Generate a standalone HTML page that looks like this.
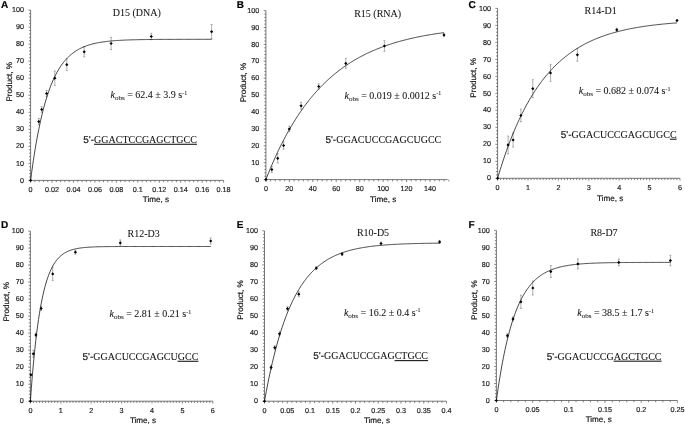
<!DOCTYPE html>
<html><head><meta charset="utf-8"><title>Kinetics panels</title>
<style>
html,body{margin:0;padding:0;background:#fff;}
body{width:685px;height:425px;overflow:hidden;}
svg{display:block;filter:blur(0.3px);} .sf{stroke-width:0.06px !important;text-rendering:auto !important;} text{stroke:currentColor;stroke-width:0.18px;paint-order:stroke;text-rendering:geometricPrecision;}
</style></head>
<body>
<svg width="685" height="425" viewBox="0 0 685 425">
<rect width="685" height="425" fill="#fff"/>
<path d="M30.6 10.1V180.4H223.6" stroke="#555" stroke-width="0.8" fill="none"/>
<path d="M28.4 180.4H30.6M29 176.99H30.6M29 173.59H30.6M29 170.18H30.6M29 166.78H30.6M28.4 163.37H30.6M29 159.96H30.6M29 156.56H30.6M29 153.15H30.6M29 149.75H30.6M28.4 146.34H30.6M29 142.93H30.6M29 139.53H30.6M29 136.12H30.6M29 132.72H30.6M28.4 129.31H30.6M29 125.9H30.6M29 122.5H30.6M29 119.09H30.6M29 115.69H30.6M28.4 112.28H30.6M29 108.87H30.6M29 105.47H30.6M29 102.06H30.6M29 98.66H30.6M28.4 95.25H30.6M29 91.84H30.6M29 88.44H30.6M29 85.03H30.6M29 81.63H30.6M28.4 78.22H30.6M29 74.81H30.6M29 71.41H30.6M29 68H30.6M29 64.6H30.6M28.4 61.19H30.6M29 57.78H30.6M29 54.38H30.6M29 50.97H30.6M29 47.57H30.6M28.4 44.16H30.6M29 40.75H30.6M29 37.35H30.6M29 33.94H30.6M29 30.54H30.6M28.4 27.13H30.6M29 23.72H30.6M29 20.32H30.6M29 16.91H30.6M29 13.51H30.6M28.4 10.1H30.6M30.6 180.4V182.8M34.89 180.4V182.2M39.18 180.4V182.2M43.47 180.4V182.2M47.76 180.4V182.2M52.04 180.4V182.8M56.33 180.4V182.2M60.62 180.4V182.2M64.91 180.4V182.2M69.2 180.4V182.2M73.49 180.4V182.8M77.78 180.4V182.2M82.07 180.4V182.2M86.36 180.4V182.2M90.64 180.4V182.2M94.93 180.4V182.8M99.22 180.4V182.2M103.51 180.4V182.2M107.8 180.4V182.2M112.09 180.4V182.2M116.38 180.4V182.8M120.67 180.4V182.2M124.96 180.4V182.2M129.24 180.4V182.2M133.53 180.4V182.2M137.82 180.4V182.8M142.11 180.4V182.2M146.4 180.4V182.2M150.69 180.4V182.2M154.98 180.4V182.2M159.27 180.4V182.8M163.56 180.4V182.2M167.84 180.4V182.2M172.13 180.4V182.2M176.42 180.4V182.2M180.71 180.4V182.8M185 180.4V182.2M189.29 180.4V182.2M193.58 180.4V182.2M197.87 180.4V182.2M202.16 180.4V182.8M206.44 180.4V182.2M210.73 180.4V182.2M215.02 180.4V182.2M219.31 180.4V182.2M223.6 180.4V182.8" stroke="#555" stroke-width="0.7" fill="none"/>
<g font-family='"Liberation Sans", sans-serif' font-size="7.2" fill="#222" color="#222"><text x="24" y="182.55" text-anchor="end">0</text><text x="24" y="165.52" text-anchor="end">10</text><text x="24" y="148.49" text-anchor="end">20</text><text x="24" y="131.46" text-anchor="end">30</text><text x="24" y="114.43" text-anchor="end">40</text><text x="24" y="97.4" text-anchor="end">50</text><text x="24" y="80.37" text-anchor="end">60</text><text x="24" y="63.34" text-anchor="end">70</text><text x="24" y="46.31" text-anchor="end">80</text><text x="24" y="29.28" text-anchor="end">90</text><text x="24" y="12.25" text-anchor="end">100</text><text x="30.6" y="191.7" text-anchor="middle">0</text><text x="52.04" y="191.7" text-anchor="middle">0.02</text><text x="73.49" y="191.7" text-anchor="middle">0.04</text><text x="94.93" y="191.7" text-anchor="middle">0.06</text><text x="116.38" y="191.7" text-anchor="middle">0.08</text><text x="137.82" y="191.7" text-anchor="middle">0.1</text><text x="159.27" y="191.7" text-anchor="middle">0.12</text><text x="180.71" y="191.7" text-anchor="middle">0.14</text><text x="202.16" y="191.7" text-anchor="middle">0.16</text><text x="223.6" y="191.7" text-anchor="middle">0.18</text></g>
<text font-family='"Liberation Sans", sans-serif' font-size="8.1" fill="#111" color="#111" text-anchor="middle" transform="translate(11.6 81.8) rotate(-90)">Product, %</text>
<text font-family='"Liberation Sans", sans-serif' font-size="8.1" fill="#111" color="#111" text-anchor="middle" x="155.9" y="201.6">Time, s</text>
<text font-family='"Liberation Sans", sans-serif' font-weight="bold" font-size="10" fill="#000" color="#000" x="1.1" y="7.9">A</text>
<path d="M38.8 118.5V124.7M37.8 118.5H39.8M37.8 124.7H39.8M41.7 106.7V112.3M40.7 106.7H42.7M40.7 112.3H42.7M46.6 90.5V96.5M45.6 90.5H47.6M45.6 96.5H47.6M54.8 71V85.4M53.8 71H55.8M53.8 85.4H55.8M66.8 58.8V70.6M65.8 58.8H67.8M65.8 70.6H67.8M84.2 46.8V56.8M83.2 46.8H85.2M83.2 56.8H85.2M111.1 37.4V49.6M110.1 37.4H112.1M110.1 49.6H112.1M151.3 33.3V39.7M150.3 33.3H152.3M150.3 39.7H152.3M211.6 24.5V38.9M210.6 24.5H212.6M210.6 38.9H212.6" stroke="#7a7a7a" stroke-width="0.6" fill="none"/>
<path d="M30.6 180.4L31.51 173.55L32.41 167.02L33.31 160.82L34.22 154.92L35.12 149.3L36.03 143.96L36.94 138.87L37.84 134.04L38.75 129.44L39.65 125.06L40.55 120.89L41.46 116.93L42.37 113.16L43.27 109.57L44.17 106.16L45.08 102.91L45.98 99.82L46.89 96.88L47.8 94.08L48.7 91.42L49.61 88.89L50.51 86.48L51.41 84.19L52.32 82.01L53.23 79.93L54.13 77.96L55.03 76.08L55.94 74.3L56.84 72.6L57.75 70.98L58.66 69.44L59.56 67.98L60.47 66.58L61.37 65.26L62.27 64L63.18 62.8L64.09 61.66L64.99 60.57L65.89 59.54L66.8 58.56L67.71 57.62L68.61 56.73L69.52 55.88L70.42 55.08L71.32 54.31L72.23 53.58L73.13 52.89L74.04 52.23L74.94 51.6L75.85 51.01L76.75 50.44L77.66 49.9L78.56 49.38L79.47 48.89L80.38 48.43L81.28 47.98L82.18 47.56L83.09 47.16L84 46.78L84.9 46.42L85.8 46.07L86.71 45.74L87.62 45.43L88.52 45.13L89.42 44.85L90.33 44.58L91.23 44.32L92.14 44.08L93.04 43.85L93.95 43.63L94.85 43.42L95.76 43.22L96.66 43.03L97.57 42.85L98.47 42.68L99.38 42.51L100.28 42.36L101.19 42.21L102.09 42.07L103 41.93L103.91 41.81L104.81 41.68L105.72 41.57L106.62 41.46L107.52 41.35L108.43 41.25L109.34 41.16L110.24 41.07L111.14 40.98L112.05 40.9L112.96 40.83L113.86 40.75L114.76 40.68L115.67 40.61L116.58 40.55L117.48 40.49L118.38 40.43L119.29 40.38L120.19 40.33L121.1 40.28L122 40.23L122.91 40.18L123.81 40.14L124.72 40.1L125.62 40.06L126.53 40.03L127.44 39.99L128.34 39.96L129.25 39.93L130.15 39.9L131.06 39.87L131.96 39.84L132.86 39.81L133.77 39.79L134.68 39.77L135.58 39.74L136.48 39.72L137.39 39.7L138.29 39.68L139.2 39.66L140.1 39.65L141.01 39.63L141.91 39.62L142.82 39.6L143.72 39.59L144.63 39.57L145.53 39.56L146.44 39.55L147.34 39.54L148.25 39.52L149.16 39.51L150.06 39.5L150.97 39.49L151.87 39.48L152.78 39.48L153.68 39.47L154.58 39.46L155.49 39.45L156.39 39.45L157.3 39.44L158.2 39.43L159.11 39.43L160.01 39.42L160.92 39.41L161.82 39.41L162.73 39.4L163.63 39.4L164.54 39.4L165.44 39.39L166.35 39.39L167.25 39.38L168.16 39.38L169.06 39.38L169.97 39.37L170.88 39.37L171.78 39.37L172.69 39.36L173.59 39.36L174.49 39.36L175.4 39.36L176.3 39.35L177.21 39.35L178.11 39.35L179.02 39.35L179.92 39.34L180.83 39.34L181.73 39.34L182.64 39.34L183.54 39.34L184.45 39.34L185.35 39.33L186.26 39.33L187.16 39.33L188.07 39.33L188.97 39.33L189.88 39.33L190.78 39.33L191.69 39.33L192.59 39.33L193.5 39.32L194.4 39.32L195.31 39.32L196.22 39.32L197.12 39.32L198.02 39.32L198.93 39.32L199.83 39.32L200.74 39.32L201.64 39.32L202.55 39.32L203.45 39.32L204.36 39.32L205.26 39.32L206.17 39.32L207.07 39.32L207.98 39.31L208.88 39.31L209.79 39.31L210.69 39.31L211.6 39.31" stroke="#111" stroke-width="0.78" fill="none" stroke-linejoin="round"/>
<path d="M30.6 178.8L32.2 180.4L30.6 182L29 180.4ZM38.8 120L40.4 121.6L38.8 123.2L37.2 121.6ZM41.7 107.9L43.3 109.5L41.7 111.1L40.1 109.5ZM46.6 91.9L48.2 93.5L46.6 95.1L45 93.5ZM54.8 76.6L56.4 78.2L54.8 79.8L53.2 78.2ZM66.8 63.1L68.4 64.7L66.8 66.3L65.2 64.7ZM84.2 50.2L85.8 51.8L84.2 53.4L82.6 51.8ZM111.1 41.9L112.7 43.5L111.1 45.1L109.5 43.5ZM151.3 34.9L152.9 36.5L151.3 38.1L149.7 36.5ZM211.6 30.1L213.2 31.7L211.6 33.3L210 31.7Z" fill="#000"/>
<text class="sf" font-family='"Liberation Serif", serif' font-size="10" fill="#111" color="#111" x="112.8" y="15.75">D15 (DNA)</text>
<text class="sf" font-family='"Liberation Serif", serif' font-size="10" fill="#111" color="#111" x="110.5" y="98.1"><tspan font-style="italic">k</tspan><tspan font-size="7" dy="1.8">obs</tspan><tspan dy="-1.8"> = 62.4 ± 3.9 s</tspan><tspan font-size="6" dy="-3.5">-1</tspan></text>
<text font-size="10" fill="#111" color="#111" x="83.3" y="142.8"><tspan font-family='"Liberation Sans", sans-serif'>5'-</tspan><tspan class="sf" font-family='"Liberation Serif", serif'><tspan text-decoration="underline">GGACTCCGAGCTGCC</tspan></tspan></text>
<path d="M265.9 10.6V179.6H447.6" stroke="#555" stroke-width="0.8" fill="none"/>
<path d="M263.7 179.6H265.9M264.3 176.22H265.9M264.3 172.84H265.9M264.3 169.46H265.9M264.3 166.08H265.9M263.7 162.7H265.9M264.3 159.32H265.9M264.3 155.94H265.9M264.3 152.56H265.9M264.3 149.18H265.9M263.7 145.8H265.9M264.3 142.42H265.9M264.3 139.04H265.9M264.3 135.66H265.9M264.3 132.28H265.9M263.7 128.9H265.9M264.3 125.52H265.9M264.3 122.14H265.9M264.3 118.76H265.9M264.3 115.38H265.9M263.7 112H265.9M264.3 108.62H265.9M264.3 105.24H265.9M264.3 101.86H265.9M264.3 98.48H265.9M263.7 95.1H265.9M264.3 91.72H265.9M264.3 88.34H265.9M264.3 84.96H265.9M264.3 81.58H265.9M263.7 78.2H265.9M264.3 74.82H265.9M264.3 71.44H265.9M264.3 68.06H265.9M264.3 64.68H265.9M263.7 61.3H265.9M264.3 57.92H265.9M264.3 54.54H265.9M264.3 51.16H265.9M264.3 47.78H265.9M263.7 44.4H265.9M264.3 41.02H265.9M264.3 37.64H265.9M264.3 34.26H265.9M264.3 30.88H265.9M263.7 27.5H265.9M264.3 24.12H265.9M264.3 20.74H265.9M264.3 17.36H265.9M264.3 13.98H265.9M263.7 10.6H265.9M265.9 179.6V182M270.59 179.6V181.4M275.28 179.6V181.4M279.97 179.6V181.4M284.66 179.6V181.4M289.35 179.6V182M294.03 179.6V181.4M298.72 179.6V181.4M303.41 179.6V181.4M308.1 179.6V181.4M312.79 179.6V182M317.48 179.6V181.4M322.17 179.6V181.4M326.86 179.6V181.4M331.55 179.6V181.4M336.24 179.6V182M340.92 179.6V181.4M345.61 179.6V181.4M350.3 179.6V181.4M354.99 179.6V181.4M359.68 179.6V182M364.37 179.6V181.4M369.06 179.6V181.4M373.75 179.6V181.4M378.44 179.6V181.4M383.13 179.6V182M387.81 179.6V181.4M392.5 179.6V181.4M397.19 179.6V181.4M401.88 179.6V181.4M406.57 179.6V182M411.26 179.6V181.4M415.95 179.6V181.4M420.64 179.6V181.4M425.33 179.6V181.4M430.02 179.6V182M434.71 179.6V181.4M439.39 179.6V181.4M444.08 179.6V181.4M448.77 179.6V181.4" stroke="#555" stroke-width="0.7" fill="none"/>
<g font-family='"Liberation Sans", sans-serif' font-size="7.2" fill="#222" color="#222"><text x="259.3" y="181.75" text-anchor="end">0</text><text x="259.3" y="164.85" text-anchor="end">10</text><text x="259.3" y="147.95" text-anchor="end">20</text><text x="259.3" y="131.05" text-anchor="end">30</text><text x="259.3" y="114.15" text-anchor="end">40</text><text x="259.3" y="97.25" text-anchor="end">50</text><text x="259.3" y="80.35" text-anchor="end">60</text><text x="259.3" y="63.45" text-anchor="end">70</text><text x="259.3" y="46.55" text-anchor="end">80</text><text x="259.3" y="29.65" text-anchor="end">90</text><text x="259.3" y="12.75" text-anchor="end">100</text><text x="265.9" y="190.9" text-anchor="middle">0</text><text x="289.35" y="190.9" text-anchor="middle">20</text><text x="312.79" y="190.9" text-anchor="middle">40</text><text x="336.24" y="190.9" text-anchor="middle">60</text><text x="359.68" y="190.9" text-anchor="middle">80</text><text x="383.13" y="190.9" text-anchor="middle">100</text><text x="406.57" y="190.9" text-anchor="middle">120</text><text x="430.02" y="190.9" text-anchor="middle">140</text></g>
<text font-family='"Liberation Sans", sans-serif' font-size="8.1" fill="#111" color="#111" text-anchor="middle" transform="translate(245.9 82.5) rotate(-90)">Product, %</text>
<text font-family='"Liberation Sans", sans-serif' font-size="8.1" fill="#111" color="#111" text-anchor="middle" x="383.2" y="202.2">Time, s</text>
<text font-family='"Liberation Sans", sans-serif' font-weight="bold" font-size="10" fill="#000" color="#000" x="236.8" y="7.7">B</text>
<path d="M271.8 166.6V172.6M270.8 166.6H272.8M270.8 172.6H272.8M277.7 153.6V163M276.7 153.6H278.7M276.7 163H278.7M283.6 141.8V149.2M282.6 141.8H284.6M282.6 149.2H284.6M289.3 126.2V131.8M288.3 126.2H290.3M288.3 131.8H290.3M301.1 102.3V109.3M300.1 102.3H302.1M300.1 109.3H302.1M318.7 83.8V89.2M317.7 83.8H319.7M317.7 89.2H319.7M345.8 58.4V68.4M344.8 58.4H346.8M344.8 68.4H346.8M384.4 40.7V51.3M383.4 40.7H385.4M383.4 51.3H385.4M444 33.5V36.5M443 33.5H445M443 36.5H445" stroke="#7a7a7a" stroke-width="0.6" fill="none"/>
<path d="M265.9 179.6L266.79 177.32L267.68 175.08L268.57 172.86L269.46 170.68L270.35 168.54L271.24 166.42L272.13 164.34L273.02 162.28L273.91 160.26L274.8 158.26L275.7 156.3L276.59 154.36L277.48 152.45L278.37 150.57L279.26 148.72L280.15 146.9L281.04 145.1L281.93 143.33L282.82 141.58L283.71 139.86L284.6 138.17L285.49 136.5L286.38 134.85L287.27 133.23L288.16 131.64L289.05 130.06L289.94 128.51L290.83 126.99L291.72 125.48L292.62 124L293.51 122.54L294.4 121.1L295.29 119.68L296.18 118.28L297.07 116.9L297.96 115.55L298.85 114.21L299.74 112.89L300.63 111.6L301.52 110.32L302.41 109.06L303.3 107.81L304.19 106.59L305.08 105.39L305.97 104.2L306.86 103.03L307.75 101.88L308.64 100.74L309.53 99.62L310.42 98.52L311.32 97.43L312.21 96.36L313.1 95.31L313.99 94.27L314.88 93.24L315.77 92.23L316.66 91.24L317.55 90.26L318.44 89.3L319.33 88.34L320.22 87.41L321.11 86.48L322 85.58L322.89 84.68L323.78 83.8L324.67 82.93L325.56 82.07L326.45 81.22L327.34 80.39L328.24 79.57L329.13 78.76L330.02 77.97L330.91 77.18L331.8 76.41L332.69 75.65L333.58 74.9L334.47 74.16L335.36 73.43L336.25 72.71L337.14 72.01L338.03 71.31L338.92 70.62L339.81 69.95L340.7 69.28L341.59 68.62L342.48 67.98L343.37 67.34L344.26 66.71L345.15 66.09L346.05 65.48L346.94 64.88L347.83 64.29L348.72 63.71L349.61 63.13L350.5 62.57L351.39 62.01L352.28 61.46L353.17 60.92L354.06 60.38L354.95 59.86L355.84 59.34L356.73 58.83L357.62 58.33L358.51 57.83L359.4 57.34L360.29 56.86L361.18 56.39L362.07 55.92L362.96 55.46L363.86 55.01L364.75 54.56L365.64 54.12L366.53 53.69L367.42 53.26L368.31 52.84L369.2 52.42L370.09 52.02L370.98 51.61L371.87 51.22L372.76 50.82L373.65 50.44L374.54 50.06L375.43 49.69L376.32 49.32L377.21 48.95L378.1 48.6L378.99 48.24L379.88 47.9L380.77 47.56L381.66 47.22L382.56 46.89L383.45 46.56L384.34 46.24L385.23 45.92L386.12 45.61L387.01 45.3L387.9 44.99L388.79 44.69L389.68 44.4L390.57 44.11L391.46 43.82L392.35 43.54L393.24 43.26L394.13 42.99L395.02 42.72L395.91 42.45L396.8 42.19L397.69 41.93L398.58 41.68L399.48 41.43L400.37 41.18L401.26 40.94L402.15 40.7L403.04 40.46L403.93 40.23L404.82 40L405.71 39.77L406.6 39.55L407.49 39.33L408.38 39.11L409.27 38.9L410.16 38.69L411.05 38.48L411.94 38.28L412.83 38.08L413.72 37.88L414.61 37.69L415.5 37.49L416.39 37.3L417.28 37.12L418.18 36.93L419.07 36.75L419.96 36.58L420.85 36.4L421.74 36.23L422.63 36.06L423.52 35.89L424.41 35.72L425.3 35.56L426.19 35.4L427.08 35.24L427.97 35.08L428.86 34.93L429.75 34.78L430.64 34.63L431.53 34.48L432.42 34.34L433.31 34.19L434.2 34.05L435.1 33.92L435.99 33.78L436.88 33.64L437.77 33.51L438.66 33.38L439.55 33.25L440.44 33.13L441.33 33L442.22 32.88L443.11 32.76L444 32.64" stroke="#111" stroke-width="0.78" fill="none" stroke-linejoin="round"/>
<path d="M265.9 178L267.5 179.6L265.9 181.2L264.3 179.6ZM271.8 168L273.4 169.6L271.8 171.2L270.2 169.6ZM277.7 156.7L279.3 158.3L277.7 159.9L276.1 158.3ZM283.6 143.9L285.2 145.5L283.6 147.1L282 145.5ZM289.3 127.4L290.9 129L289.3 130.6L287.7 129ZM301.1 104.2L302.7 105.8L301.1 107.4L299.5 105.8ZM318.7 84.9L320.3 86.5L318.7 88.1L317.1 86.5ZM345.8 61.8L347.4 63.4L345.8 65L344.2 63.4ZM384.4 44.4L386 46L384.4 47.6L382.8 46ZM444 33.4L445.6 35L444 36.6L442.4 35Z" fill="#000"/>
<text class="sf" font-family='"Liberation Serif", serif' font-size="10" fill="#111" color="#111" x="354.2" y="16.85">R15 (RNA)</text>
<text class="sf" font-family='"Liberation Serif", serif' font-size="10" fill="#111" color="#111" x="344.5" y="98.7"><tspan font-style="italic">k</tspan><tspan font-size="7" dy="1.8">obs</tspan><tspan dy="-1.8"> = 0.019 ± 0.0012 s</tspan><tspan font-size="6" dy="-3.5">-1</tspan></text>
<text font-size="10" fill="#111" color="#111" x="325.4" y="142.9"><tspan font-family='"Liberation Sans", sans-serif'>5'-</tspan><tspan class="sf" font-family='"Liberation Serif", serif'><tspan>GGACUCCGAGCUGCC</tspan></tspan></text>
<path d="M497.6 8.4V178.3H680" stroke="#555" stroke-width="0.8" fill="none"/>
<path d="M495.4 178.3H497.6M496 174.9H497.6M496 171.5H497.6M496 168.11H497.6M496 164.71H497.6M495.4 161.31H497.6M496 157.91H497.6M496 154.51H497.6M496 151.12H497.6M496 147.72H497.6M495.4 144.32H497.6M496 140.92H497.6M496 137.52H497.6M496 134.13H497.6M496 130.73H497.6M495.4 127.33H497.6M496 123.93H497.6M496 120.53H497.6M496 117.14H497.6M496 113.74H497.6M495.4 110.34H497.6M496 106.94H497.6M496 103.54H497.6M496 100.15H497.6M496 96.75H497.6M495.4 93.35H497.6M496 89.95H497.6M496 86.55H497.6M496 83.16H497.6M496 79.76H497.6M495.4 76.36H497.6M496 72.96H497.6M496 69.56H497.6M496 66.17H497.6M496 62.77H497.6M495.4 59.37H497.6M496 55.97H497.6M496 52.57H497.6M496 49.18H497.6M496 45.78H497.6M495.4 42.38H497.6M496 38.98H497.6M496 35.58H497.6M496 32.19H497.6M496 28.79H497.6M495.4 25.39H497.6M496 21.99H497.6M496 18.59H497.6M496 15.2H497.6M496 11.8H497.6M495.4 8.4H497.6M497.6 178.3V180.7M500.64 178.3V180.1M503.68 178.3V180.1M506.72 178.3V180.1M509.76 178.3V180.1M512.8 178.3V180.1M515.84 178.3V180.1M518.88 178.3V180.1M521.92 178.3V180.1M524.96 178.3V180.1M528 178.3V180.7M531.04 178.3V180.1M534.08 178.3V180.1M537.12 178.3V180.1M540.16 178.3V180.1M543.2 178.3V180.1M546.24 178.3V180.1M549.28 178.3V180.1M552.32 178.3V180.1M555.36 178.3V180.1M558.4 178.3V180.7M561.44 178.3V180.1M564.48 178.3V180.1M567.52 178.3V180.1M570.56 178.3V180.1M573.6 178.3V180.1M576.64 178.3V180.1M579.68 178.3V180.1M582.72 178.3V180.1M585.76 178.3V180.1M588.8 178.3V180.7M591.84 178.3V180.1M594.88 178.3V180.1M597.92 178.3V180.1M600.96 178.3V180.1M604 178.3V180.1M607.04 178.3V180.1M610.08 178.3V180.1M613.12 178.3V180.1M616.16 178.3V180.1M619.2 178.3V180.7M622.24 178.3V180.1M625.28 178.3V180.1M628.32 178.3V180.1M631.36 178.3V180.1M634.4 178.3V180.1M637.44 178.3V180.1M640.48 178.3V180.1M643.52 178.3V180.1M646.56 178.3V180.1M649.6 178.3V180.7M652.64 178.3V180.1M655.68 178.3V180.1M658.72 178.3V180.1M661.76 178.3V180.1M664.8 178.3V180.1M667.84 178.3V180.1M670.88 178.3V180.1M673.92 178.3V180.1M676.96 178.3V180.1M680 178.3V180.7" stroke="#555" stroke-width="0.7" fill="none"/>
<g font-family='"Liberation Sans", sans-serif' font-size="7.2" fill="#222" color="#222"><text x="491" y="180.45" text-anchor="end">0</text><text x="491" y="163.46" text-anchor="end">10</text><text x="491" y="146.47" text-anchor="end">20</text><text x="491" y="129.48" text-anchor="end">30</text><text x="491" y="112.49" text-anchor="end">40</text><text x="491" y="95.5" text-anchor="end">50</text><text x="491" y="78.51" text-anchor="end">60</text><text x="491" y="61.52" text-anchor="end">70</text><text x="491" y="44.53" text-anchor="end">80</text><text x="491" y="27.54" text-anchor="end">90</text><text x="491" y="10.55" text-anchor="end">100</text><text x="497.6" y="189.6" text-anchor="middle">0</text><text x="528" y="189.6" text-anchor="middle">1</text><text x="558.4" y="189.6" text-anchor="middle">2</text><text x="588.8" y="189.6" text-anchor="middle">3</text><text x="619.2" y="189.6" text-anchor="middle">4</text><text x="649.6" y="189.6" text-anchor="middle">5</text><text x="680" y="189.6" text-anchor="middle">6</text></g>
<text font-family='"Liberation Sans", sans-serif' font-size="8.1" fill="#111" color="#111" text-anchor="middle" transform="translate(476.2 77.9) rotate(-90)">Product, %</text>
<text font-family='"Liberation Sans", sans-serif' font-size="8.1" fill="#111" color="#111" text-anchor="middle" x="610.1" y="200.8">Time, s</text>
<text font-family='"Liberation Sans", sans-serif' font-weight="bold" font-size="10" fill="#000" color="#000" x="468.5" y="7.9">C</text>
<path d="M508.1 136.1V153.7M507.1 136.1H509.1M507.1 153.7H509.1M513.1 133V147M512.1 133H514.1M512.1 147H514.1M520.9 109.2V121.8M519.9 109.2H521.9M519.9 121.8H521.9M532.8 79.7V97.7M531.8 79.7H533.8M531.8 97.7H533.8M550.5 64.4V81.4M549.5 64.4H551.5M549.5 81.4H551.5M577.4 48.4V61.2M576.4 48.4H578.4M576.4 61.2H578.4M616.8 28.3V31.3M615.8 28.3H617.8M615.8 31.3H617.8M677 19.5V21.5M676 19.5H678M676 21.5H678" stroke="#7a7a7a" stroke-width="0.6" fill="none"/>
<path d="M497.6 178.3L498.5 175.28L499.39 172.32L500.29 169.42L501.19 166.57L502.09 163.77L502.98 161.03L503.88 158.34L504.78 155.7L505.67 153.12L506.57 150.58L507.47 148.08L508.36 145.64L509.26 143.24L510.16 140.89L511.06 138.59L511.95 136.32L512.85 134.1L513.75 131.92L514.64 129.79L515.54 127.69L516.44 125.63L517.33 123.62L518.23 121.64L519.13 119.7L520.02 117.79L520.92 115.92L521.82 114.09L522.72 112.29L523.61 110.53L524.51 108.8L525.41 107.1L526.3 105.44L527.2 103.8L528.1 102.2L529 100.63L529.89 99.09L530.79 97.57L531.69 96.09L532.58 94.63L533.48 93.2L534.38 91.8L535.27 90.43L536.17 89.08L537.07 87.76L537.97 86.46L538.86 85.19L539.76 83.94L540.66 82.71L541.55 81.51L542.45 80.33L543.35 79.17L544.24 78.04L545.14 76.93L546.04 75.84L546.94 74.76L547.83 73.71L548.73 72.68L549.63 71.67L550.52 70.68L551.42 69.71L552.32 68.75L553.21 67.81L554.11 66.89L555.01 65.99L555.9 65.11L556.8 64.24L557.7 63.39L558.6 62.56L559.49 61.74L560.39 60.93L561.29 60.15L562.18 59.37L563.08 58.61L563.98 57.87L564.88 57.14L565.77 56.42L566.67 55.72L567.57 55.03L568.46 54.36L569.36 53.69L570.26 53.04L571.15 52.4L572.05 51.78L572.95 51.16L573.85 50.56L574.74 49.97L575.64 49.39L576.54 48.82L577.43 48.26L578.33 47.72L579.23 47.18L580.12 46.65L581.02 46.13L581.92 45.63L582.82 45.13L583.71 44.64L584.61 44.16L585.51 43.69L586.4 43.23L587.3 42.78L588.2 42.34L589.09 41.9L589.99 41.48L590.89 41.06L591.78 40.65L592.68 40.24L593.58 39.85L594.48 39.46L595.37 39.08L596.27 38.71L597.17 38.34L598.06 37.98L598.96 37.63L599.86 37.29L600.75 36.95L601.65 36.61L602.55 36.29L603.45 35.97L604.34 35.65L605.24 35.35L606.14 35.04L607.03 34.75L607.93 34.46L608.83 34.17L609.73 33.89L610.62 33.62L611.52 33.35L612.42 33.08L613.31 32.83L614.21 32.57L615.11 32.32L616 32.08L616.9 31.84L617.8 31.6L618.7 31.37L619.59 31.14L620.49 30.92L621.39 30.7L622.28 30.49L623.18 30.28L624.08 30.07L624.97 29.87L625.87 29.67L626.77 29.48L627.66 29.29L628.56 29.1L629.46 28.92L630.36 28.74L631.25 28.56L632.15 28.39L633.05 28.22L633.94 28.05L634.84 27.89L635.74 27.73L636.63 27.57L637.53 27.42L638.43 27.26L639.33 27.12L640.22 26.97L641.12 26.83L642.02 26.69L642.91 26.55L643.81 26.41L644.71 26.28L645.61 26.15L646.5 26.02L647.4 25.9L648.3 25.78L649.19 25.66L650.09 25.54L650.99 25.42L651.88 25.31L652.78 25.2L653.68 25.09L654.58 24.98L655.47 24.88L656.37 24.77L657.27 24.67L658.16 24.57L659.06 24.48L659.96 24.38L660.85 24.29L661.75 24.19L662.65 24.1L663.54 24.01L664.44 23.93L665.34 23.84L666.24 23.76L667.13 23.68L668.03 23.6L668.93 23.52L669.82 23.44L670.72 23.36L671.62 23.29L672.51 23.22L673.41 23.15L674.31 23.08L675.21 23.01L676.1 22.94L677 22.87" stroke="#111" stroke-width="0.78" fill="none" stroke-linejoin="round"/>
<path d="M497.6 176.7L499.2 178.3L497.6 179.9L496 178.3ZM508.1 143.3L509.7 144.9L508.1 146.5L506.5 144.9ZM513.1 138.4L514.7 140L513.1 141.6L511.5 140ZM520.9 113.9L522.5 115.5L520.9 117.1L519.3 115.5ZM532.8 87.1L534.4 88.7L532.8 90.3L531.2 88.7ZM550.5 71.3L552.1 72.9L550.5 74.5L548.9 72.9ZM577.4 53.2L579 54.8L577.4 56.4L575.8 54.8ZM616.8 28.2L618.4 29.8L616.8 31.4L615.2 29.8ZM677 18.9L678.6 20.5L677 22.1L675.4 20.5Z" fill="#000"/>
<text class="sf" font-family='"Liberation Serif", serif' font-size="10" fill="#111" color="#111" x="584.5" y="14.35">R14-D1</text>
<text class="sf" font-family='"Liberation Serif", serif' font-size="10" fill="#111" color="#111" x="578.8" y="94.1"><tspan font-style="italic">k</tspan><tspan font-size="7" dy="1.8">obs</tspan><tspan dy="-1.8"> = 0.682 ± 0.074 s</tspan><tspan font-size="6" dy="-3.5">-1</tspan></text>
<text font-size="10" fill="#111" color="#111" x="560.8" y="137.7"><tspan font-family='"Liberation Sans", sans-serif'>5'-</tspan><tspan class="sf" font-family='"Liberation Serif", serif'><tspan>GGACUCCGAGCUGC</tspan><tspan text-decoration="underline">C</tspan></tspan></text>
<path d="M30.4 231V401.2H212.8" stroke="#555" stroke-width="0.8" fill="none"/>
<path d="M28.2 401.2H30.4M28.8 397.8H30.4M28.8 394.39H30.4M28.8 390.99H30.4M28.8 387.58H30.4M28.2 384.18H30.4M28.8 380.78H30.4M28.8 377.37H30.4M28.8 373.97H30.4M28.8 370.56H30.4M28.2 367.16H30.4M28.8 363.76H30.4M28.8 360.35H30.4M28.8 356.95H30.4M28.8 353.54H30.4M28.2 350.14H30.4M28.8 346.74H30.4M28.8 343.33H30.4M28.8 339.93H30.4M28.8 336.52H30.4M28.2 333.12H30.4M28.8 329.72H30.4M28.8 326.31H30.4M28.8 322.91H30.4M28.8 319.5H30.4M28.2 316.1H30.4M28.8 312.7H30.4M28.8 309.29H30.4M28.8 305.89H30.4M28.8 302.48H30.4M28.2 299.08H30.4M28.8 295.68H30.4M28.8 292.27H30.4M28.8 288.87H30.4M28.8 285.46H30.4M28.2 282.06H30.4M28.8 278.66H30.4M28.8 275.25H30.4M28.8 271.85H30.4M28.8 268.44H30.4M28.2 265.04H30.4M28.8 261.64H30.4M28.8 258.23H30.4M28.8 254.83H30.4M28.8 251.42H30.4M28.2 248.02H30.4M28.8 244.62H30.4M28.8 241.21H30.4M28.8 237.81H30.4M28.8 234.4H30.4M28.2 231H30.4M30.4 401.2V403.6M33.44 401.2V403M36.48 401.2V403M39.52 401.2V403M42.56 401.2V403M45.6 401.2V403M48.64 401.2V403M51.68 401.2V403M54.72 401.2V403M57.76 401.2V403M60.8 401.2V403.6M63.84 401.2V403M66.88 401.2V403M69.92 401.2V403M72.96 401.2V403M76 401.2V403M79.04 401.2V403M82.08 401.2V403M85.12 401.2V403M88.16 401.2V403M91.2 401.2V403.6M94.24 401.2V403M97.28 401.2V403M100.32 401.2V403M103.36 401.2V403M106.4 401.2V403M109.44 401.2V403M112.48 401.2V403M115.52 401.2V403M118.56 401.2V403M121.6 401.2V403.6M124.64 401.2V403M127.68 401.2V403M130.72 401.2V403M133.76 401.2V403M136.8 401.2V403M139.84 401.2V403M142.88 401.2V403M145.92 401.2V403M148.96 401.2V403M152 401.2V403.6M155.04 401.2V403M158.08 401.2V403M161.12 401.2V403M164.16 401.2V403M167.2 401.2V403M170.24 401.2V403M173.28 401.2V403M176.32 401.2V403M179.36 401.2V403M182.4 401.2V403.6M185.44 401.2V403M188.48 401.2V403M191.52 401.2V403M194.56 401.2V403M197.6 401.2V403M200.64 401.2V403M203.68 401.2V403M206.72 401.2V403M209.76 401.2V403M212.8 401.2V403.6" stroke="#555" stroke-width="0.7" fill="none"/>
<g font-family='"Liberation Sans", sans-serif' font-size="7.2" fill="#222" color="#222"><text x="23.8" y="403.35" text-anchor="end">0</text><text x="23.8" y="386.33" text-anchor="end">10</text><text x="23.8" y="369.31" text-anchor="end">20</text><text x="23.8" y="352.29" text-anchor="end">30</text><text x="23.8" y="335.27" text-anchor="end">40</text><text x="23.8" y="318.25" text-anchor="end">50</text><text x="23.8" y="301.23" text-anchor="end">60</text><text x="23.8" y="284.21" text-anchor="end">70</text><text x="23.8" y="267.19" text-anchor="end">80</text><text x="23.8" y="250.17" text-anchor="end">90</text><text x="23.8" y="233.15" text-anchor="end">100</text><text x="30.4" y="412.5" text-anchor="middle">0</text><text x="60.8" y="412.5" text-anchor="middle">1</text><text x="91.2" y="412.5" text-anchor="middle">2</text><text x="121.6" y="412.5" text-anchor="middle">3</text><text x="152" y="412.5" text-anchor="middle">4</text><text x="182.4" y="412.5" text-anchor="middle">5</text><text x="212.8" y="412.5" text-anchor="middle">6</text></g>
<text font-family='"Liberation Sans", sans-serif' font-size="8.1" fill="#111" color="#111" text-anchor="middle" transform="translate(8.9 301.8) rotate(-90)">Product, %</text>
<text font-family='"Liberation Sans", sans-serif' font-size="8.1" fill="#111" color="#111" text-anchor="middle" x="143" y="423">Time, s</text>
<text font-family='"Liberation Sans", sans-serif' font-weight="bold" font-size="10" fill="#000" color="#000" x="1.1" y="228.1">D</text>
<path d="M30.9 373.8V375.8M29.9 373.8H31.9M29.9 375.8H31.9M33.3 350.3V357.3M32.3 350.3H34.3M32.3 357.3H34.3M35.9 332.9V336.9M34.9 332.9H36.9M34.9 336.9H36.9M41.2 306.5V310.5M40.2 306.5H42.2M40.2 310.5H42.2M52.7 267.4V280.4M51.7 267.4H53.7M51.7 280.4H53.7M75.4 250.2V254.2M74.4 250.2H76.4M74.4 254.2H76.4M120.3 239.9V245.9M119.3 239.9H121.3M119.3 245.9H121.3M210.7 238V244M209.7 238H211.7M209.7 244H211.7" stroke="#7a7a7a" stroke-width="0.6" fill="none"/>
<path d="M30.4 401.2L31.3 388.83L32.2 377.45L33.1 366.98L34.01 357.35L34.91 348.48L35.81 340.33L36.71 332.83L37.61 325.92L38.51 319.57L39.41 313.73L40.32 308.35L41.22 303.41L42.12 298.86L43.02 294.67L43.92 290.82L44.82 287.27L45.73 284.01L46.63 281.01L47.53 278.25L48.43 275.71L49.33 273.38L50.23 271.23L51.13 269.25L52.04 267.43L52.94 265.75L53.84 264.21L54.74 262.8L55.64 261.49L56.54 260.29L57.44 259.19L58.35 258.17L59.25 257.24L60.15 256.38L61.05 255.59L61.95 254.86L62.85 254.19L63.76 253.58L64.66 253.01L65.56 252.49L66.46 252.01L67.36 251.57L68.26 251.16L69.16 250.79L70.07 250.44L70.97 250.13L71.87 249.84L72.77 249.57L73.67 249.32L74.57 249.1L75.47 248.89L76.38 248.7L77.28 248.52L78.18 248.36L79.08 248.21L79.98 248.07L80.88 247.94L81.79 247.83L82.69 247.72L83.59 247.62L84.49 247.53L85.39 247.45L86.29 247.37L87.19 247.3L88.1 247.24L89 247.18L89.9 247.12L90.8 247.07L91.7 247.02L92.6 246.98L93.5 246.94L94.41 246.91L95.31 246.87L96.21 246.84L97.11 246.81L98.01 246.79L98.91 246.76L99.82 246.74L100.72 246.72L101.62 246.7L102.52 246.69L103.42 246.67L104.32 246.65L105.22 246.64L106.13 246.63L107.03 246.62L107.93 246.61L108.83 246.6L109.73 246.59L110.63 246.58L111.53 246.57L112.44 246.57L113.34 246.56L114.24 246.55L115.14 246.55L116.04 246.54L116.94 246.54L117.85 246.54L118.75 246.53L119.65 246.53L120.55 246.53L121.45 246.52L122.35 246.52L123.25 246.52L124.16 246.51L125.06 246.51L125.96 246.51L126.86 246.51L127.76 246.51L128.66 246.51L129.56 246.5L130.47 246.5L131.37 246.5L132.27 246.5L133.17 246.5L134.07 246.5L134.97 246.5L135.88 246.5L136.78 246.5L137.68 246.5L138.58 246.5L139.48 246.49L140.38 246.49L141.28 246.49L142.19 246.49L143.09 246.49L143.99 246.49L144.89 246.49L145.79 246.49L146.69 246.49L147.59 246.49L148.5 246.49L149.4 246.49L150.3 246.49L151.2 246.49L152.1 246.49L153 246.49L153.91 246.49L154.81 246.49L155.71 246.49L156.61 246.49L157.51 246.49L158.41 246.49L159.31 246.49L160.22 246.49L161.12 246.49L162.02 246.49L162.92 246.49L163.82 246.49L164.72 246.49L165.62 246.49L166.53 246.49L167.43 246.49L168.33 246.49L169.23 246.49L170.13 246.49L171.03 246.49L171.94 246.49L172.84 246.49L173.74 246.49L174.64 246.49L175.54 246.49L176.44 246.49L177.34 246.49L178.25 246.49L179.15 246.49L180.05 246.49L180.95 246.49L181.85 246.49L182.75 246.49L183.65 246.49L184.56 246.49L185.46 246.49L186.36 246.49L187.26 246.49L188.16 246.49L189.06 246.49L189.97 246.49L190.87 246.49L191.77 246.49L192.67 246.49L193.57 246.49L194.47 246.49L195.37 246.49L196.28 246.49L197.18 246.49L198.08 246.49L198.98 246.49L199.88 246.49L200.78 246.49L201.68 246.49L202.59 246.49L203.49 246.49L204.39 246.49L205.29 246.49L206.19 246.49L207.09 246.49L208 246.49L208.9 246.49L209.8 246.49L210.7 246.49" stroke="#111" stroke-width="0.78" fill="none" stroke-linejoin="round"/>
<path d="M30.4 399.6L32 401.2L30.4 402.8L28.8 401.2ZM30.9 373.2L32.5 374.8L30.9 376.4L29.3 374.8ZM33.3 352.2L34.9 353.8L33.3 355.4L31.7 353.8ZM35.9 333.3L37.5 334.9L35.9 336.5L34.3 334.9ZM41.2 306.9L42.8 308.5L41.2 310.1L39.6 308.5ZM52.7 272.3L54.3 273.9L52.7 275.5L51.1 273.9ZM75.4 250.6L77 252.2L75.4 253.8L73.8 252.2ZM120.3 241.3L121.9 242.9L120.3 244.5L118.7 242.9ZM210.7 239.4L212.3 241L210.7 242.6L209.1 241Z" fill="#000"/>
<text class="sf" font-family='"Liberation Serif", serif' font-size="10" fill="#111" color="#111" x="127.5" y="237.45">R12-D3</text>
<text class="sf" font-family='"Liberation Serif", serif' font-size="10" fill="#111" color="#111" x="109.5" y="317.4"><tspan font-style="italic">k</tspan><tspan font-size="7" dy="1.8">obs</tspan><tspan dy="-1.8"> = 2.81 ± 0.21 s</tspan><tspan font-size="6" dy="-3.5">-1</tspan></text>
<text font-size="10" fill="#111" color="#111" x="82.5" y="359.8"><tspan font-family='"Liberation Sans", sans-serif'>5'-</tspan><tspan class="sf" font-family='"Liberation Serif", serif'><tspan>GGACUCCGAGCU</tspan><tspan text-decoration="underline">GCC</tspan></tspan></text>
<path d="M264.5 230.9V401.2H446.5" stroke="#555" stroke-width="0.8" fill="none"/>
<path d="M262.3 401.2H264.5M262.9 397.79H264.5M262.9 394.39H264.5M262.9 390.98H264.5M262.9 387.58H264.5M262.3 384.17H264.5M262.9 380.76H264.5M262.9 377.36H264.5M262.9 373.95H264.5M262.9 370.55H264.5M262.3 367.14H264.5M262.9 363.73H264.5M262.9 360.33H264.5M262.9 356.92H264.5M262.9 353.52H264.5M262.3 350.11H264.5M262.9 346.7H264.5M262.9 343.3H264.5M262.9 339.89H264.5M262.9 336.49H264.5M262.3 333.08H264.5M262.9 329.67H264.5M262.9 326.27H264.5M262.9 322.86H264.5M262.9 319.46H264.5M262.3 316.05H264.5M262.9 312.64H264.5M262.9 309.24H264.5M262.9 305.83H264.5M262.9 302.43H264.5M262.3 299.02H264.5M262.9 295.61H264.5M262.9 292.21H264.5M262.9 288.8H264.5M262.9 285.4H264.5M262.3 281.99H264.5M262.9 278.58H264.5M262.9 275.18H264.5M262.9 271.77H264.5M262.9 268.37H264.5M262.3 264.96H264.5M262.9 261.55H264.5M262.9 258.15H264.5M262.9 254.74H264.5M262.9 251.34H264.5M262.3 247.93H264.5M262.9 244.52H264.5M262.9 241.12H264.5M262.9 237.71H264.5M262.9 234.31H264.5M262.3 230.9H264.5M264.5 401.2V403.6M269.05 401.2V403M273.6 401.2V403M278.15 401.2V403M282.7 401.2V403M287.25 401.2V403.6M291.8 401.2V403M296.35 401.2V403M300.9 401.2V403M305.45 401.2V403M310 401.2V403.6M314.55 401.2V403M319.1 401.2V403M323.65 401.2V403M328.2 401.2V403M332.75 401.2V403.6M337.3 401.2V403M341.85 401.2V403M346.4 401.2V403M350.95 401.2V403M355.5 401.2V403.6M360.05 401.2V403M364.6 401.2V403M369.15 401.2V403M373.7 401.2V403M378.25 401.2V403.6M382.8 401.2V403M387.35 401.2V403M391.9 401.2V403M396.45 401.2V403M401 401.2V403.6M405.55 401.2V403M410.1 401.2V403M414.65 401.2V403M419.2 401.2V403M423.75 401.2V403.6M428.3 401.2V403M432.85 401.2V403M437.4 401.2V403M441.95 401.2V403M446.5 401.2V403.6" stroke="#555" stroke-width="0.7" fill="none"/>
<g font-family='"Liberation Sans", sans-serif' font-size="7.2" fill="#222" color="#222"><text x="257.9" y="403.35" text-anchor="end">0</text><text x="257.9" y="386.32" text-anchor="end">10</text><text x="257.9" y="369.29" text-anchor="end">20</text><text x="257.9" y="352.26" text-anchor="end">30</text><text x="257.9" y="335.23" text-anchor="end">40</text><text x="257.9" y="318.2" text-anchor="end">50</text><text x="257.9" y="301.17" text-anchor="end">60</text><text x="257.9" y="284.14" text-anchor="end">70</text><text x="257.9" y="267.11" text-anchor="end">80</text><text x="257.9" y="250.08" text-anchor="end">90</text><text x="257.9" y="233.05" text-anchor="end">100</text><text x="264.5" y="412.5" text-anchor="middle">0</text><text x="287.25" y="412.5" text-anchor="middle">0.05</text><text x="310" y="412.5" text-anchor="middle">0.1</text><text x="332.75" y="412.5" text-anchor="middle">0.15</text><text x="355.5" y="412.5" text-anchor="middle">0.2</text><text x="378.25" y="412.5" text-anchor="middle">0.25</text><text x="401" y="412.5" text-anchor="middle">0.3</text><text x="423.75" y="412.5" text-anchor="middle">0.35</text><text x="446.5" y="412.5" text-anchor="middle">0.4</text></g>
<text font-family='"Liberation Sans", sans-serif' font-size="8.1" fill="#111" color="#111" text-anchor="middle" transform="translate(243.2 300) rotate(-90)">Product, %</text>
<text font-family='"Liberation Sans", sans-serif' font-size="8.1" fill="#111" color="#111" text-anchor="middle" x="377" y="422.8">Time, s</text>
<text font-family='"Liberation Sans", sans-serif' font-weight="bold" font-size="10" fill="#000" color="#000" x="236.8" y="228.1">E</text>
<path d="M271.1 365.4V369.4M270.1 365.4H272.1M270.1 369.4H272.1M274.8 345.7V349.7M273.8 345.7H275.8M273.8 349.7H275.8M279.5 331.8V335.8M278.5 331.8H280.5M278.5 335.8H280.5M287.5 306.7V310.7M286.5 306.7H288.5M286.5 310.7H288.5M298.8 291.7V296.7M297.8 291.7H299.8M297.8 296.7H299.8M316.3 266.7V269.7M315.3 266.7H317.3M315.3 269.7H317.3M342.1 252.6V255.6M341.1 252.6H343.1M341.1 255.6H343.1M381 242V245M380 242H382M380 245H382M439.6 240.4V243.4M438.6 240.4H440.6M438.6 243.4H440.6" stroke="#7a7a7a" stroke-width="0.6" fill="none"/>
<path d="M264.5 401.2L265.38 396.34L266.25 391.63L267.13 387.06L268 382.63L268.88 378.34L269.75 374.18L270.63 370.15L271.5 366.24L272.38 362.46L273.25 358.78L274.13 355.23L275.01 351.78L275.88 348.43L276.76 345.19L277.63 342.05L278.51 339L279.38 336.05L280.26 333.19L281.13 330.42L282.01 327.73L282.89 325.12L283.76 322.6L284.64 320.15L285.51 317.77L286.39 315.47L287.26 313.24L288.14 311.08L289.01 308.99L289.89 306.96L290.76 304.99L291.64 303.08L292.52 301.23L293.39 299.44L294.27 297.7L295.14 296.02L296.02 294.38L296.89 292.8L297.77 291.27L298.64 289.78L299.52 288.34L300.4 286.94L301.27 285.59L302.15 284.28L303.02 283L303.9 281.77L304.77 280.58L305.65 279.42L306.52 278.29L307.4 277.2L308.27 276.15L309.15 275.13L310.03 274.13L310.9 273.17L311.78 272.24L312.65 271.34L313.53 270.46L314.4 269.62L315.28 268.79L316.15 268L317.03 267.22L317.91 266.47L318.78 265.75L319.66 265.05L320.53 264.36L321.41 263.7L322.28 263.06L323.16 262.44L324.03 261.84L324.91 261.25L325.79 260.69L326.66 260.14L327.54 259.61L328.41 259.09L329.29 258.59L330.16 258.11L331.04 257.64L331.91 257.19L332.79 256.74L333.66 256.32L334.54 255.9L335.42 255.5L336.29 255.11L337.17 254.74L338.04 254.37L338.92 254.02L339.79 253.67L340.67 253.34L341.54 253.02L342.42 252.7L343.3 252.4L344.17 252.11L345.05 251.82L345.92 251.54L346.8 251.28L347.67 251.02L348.55 250.77L349.42 250.52L350.3 250.29L351.17 250.06L352.05 249.83L352.93 249.62L353.8 249.41L354.68 249.21L355.55 249.01L356.43 248.82L357.3 248.64L358.18 248.46L359.05 248.29L359.93 248.12L360.81 247.96L361.68 247.8L362.56 247.65L363.43 247.5L364.31 247.35L365.18 247.22L366.06 247.08L366.93 246.95L367.81 246.82L368.68 246.7L369.56 246.58L370.44 246.47L371.31 246.35L372.19 246.25L373.06 246.14L373.94 246.04L374.81 245.94L375.69 245.84L376.56 245.75L377.44 245.66L378.32 245.57L379.19 245.49L380.07 245.41L380.94 245.33L381.82 245.25L382.69 245.18L383.57 245.1L384.44 245.03L385.32 244.97L386.19 244.9L387.07 244.84L387.95 244.77L388.82 244.71L389.7 244.66L390.57 244.6L391.45 244.55L392.32 244.49L393.2 244.44L394.07 244.39L394.95 244.34L395.83 244.3L396.7 244.25L397.58 244.21L398.45 244.17L399.33 244.12L400.2 244.08L401.08 244.05L401.95 244.01L402.83 243.97L403.7 243.94L404.58 243.9L405.46 243.87L406.33 243.84L407.21 243.81L408.08 243.77L408.96 243.75L409.83 243.72L410.71 243.69L411.58 243.66L412.46 243.64L413.34 243.61L414.21 243.59L415.09 243.56L415.96 243.54L416.84 243.52L417.71 243.5L418.59 243.48L419.46 243.46L420.34 243.44L421.21 243.42L422.09 243.4L422.97 243.38L423.84 243.37L424.72 243.35L425.59 243.33L426.47 243.32L427.34 243.3L428.22 243.29L429.09 243.27L429.97 243.26L430.85 243.25L431.72 243.23L432.6 243.22L433.47 243.21L434.35 243.2L435.22 243.18L436.1 243.17L436.97 243.16L437.85 243.15L438.72 243.14L439.6 243.13" stroke="#111" stroke-width="0.78" fill="none" stroke-linejoin="round"/>
<path d="M264.5 399.6L266.1 401.2L264.5 402.8L262.9 401.2ZM271.1 365.8L272.7 367.4L271.1 369L269.5 367.4ZM274.8 346.1L276.4 347.7L274.8 349.3L273.2 347.7ZM279.5 332.2L281.1 333.8L279.5 335.4L277.9 333.8ZM287.5 307.1L289.1 308.7L287.5 310.3L285.9 308.7ZM298.8 292.6L300.4 294.2L298.8 295.8L297.2 294.2ZM316.3 266.6L317.9 268.2L316.3 269.8L314.7 268.2ZM342.1 252.5L343.7 254.1L342.1 255.7L340.5 254.1ZM381 241.9L382.6 243.5L381 245.1L379.4 243.5ZM439.6 240.3L441.2 241.9L439.6 243.5L438 241.9Z" fill="#000"/>
<text class="sf" font-family='"Liberation Serif", serif' font-size="10" fill="#111" color="#111" x="356.9" y="236.05">R10-D5</text>
<text class="sf" font-family='"Liberation Serif", serif' font-size="10" fill="#111" color="#111" x="343.9" y="315.8"><tspan font-style="italic">k</tspan><tspan font-size="7" dy="1.8">obs</tspan><tspan dy="-1.8"> = 16.2 ± 0.4 s</tspan><tspan font-size="6" dy="-3.5">-1</tspan></text>
<text font-size="10" fill="#111" color="#111" x="313.3" y="359.1"><tspan font-family='"Liberation Sans", sans-serif'>5'-</tspan><tspan class="sf" font-family='"Liberation Serif", serif'><tspan>GGACUCCGAG</tspan><tspan text-decoration="underline">CTGCC</tspan></tspan></text>
<path d="M496.4 230.4V400.5H677.4" stroke="#555" stroke-width="0.8" fill="none"/>
<path d="M494.2 400.5H496.4M494.8 397.1H496.4M494.8 393.7H496.4M494.8 390.29H496.4M494.8 386.89H496.4M494.2 383.49H496.4M494.8 380.09H496.4M494.8 376.69H496.4M494.8 373.28H496.4M494.8 369.88H496.4M494.2 366.48H496.4M494.8 363.08H496.4M494.8 359.68H496.4M494.8 356.27H496.4M494.8 352.87H496.4M494.2 349.47H496.4M494.8 346.07H496.4M494.8 342.67H496.4M494.8 339.26H496.4M494.8 335.86H496.4M494.2 332.46H496.4M494.8 329.06H496.4M494.8 325.66H496.4M494.8 322.25H496.4M494.8 318.85H496.4M494.2 315.45H496.4M494.8 312.05H496.4M494.8 308.65H496.4M494.8 305.24H496.4M494.8 301.84H496.4M494.2 298.44H496.4M494.8 295.04H496.4M494.8 291.64H496.4M494.8 288.23H496.4M494.8 284.83H496.4M494.2 281.43H496.4M494.8 278.03H496.4M494.8 274.63H496.4M494.8 271.22H496.4M494.8 267.82H496.4M494.2 264.42H496.4M494.8 261.02H496.4M494.8 257.62H496.4M494.8 254.21H496.4M494.8 250.81H496.4M494.2 247.41H496.4M494.8 244.01H496.4M494.8 240.61H496.4M494.8 237.2H496.4M494.8 233.8H496.4M494.2 230.4H496.4M496.4 400.5V402.9M503.64 400.5V402.3M510.88 400.5V402.3M518.12 400.5V402.3M525.36 400.5V402.3M532.6 400.5V402.9M539.84 400.5V402.3M547.08 400.5V402.3M554.32 400.5V402.3M561.56 400.5V402.3M568.8 400.5V402.9M576.04 400.5V402.3M583.28 400.5V402.3M590.52 400.5V402.3M597.76 400.5V402.3M605 400.5V402.9M612.24 400.5V402.3M619.48 400.5V402.3M626.72 400.5V402.3M633.96 400.5V402.3M641.2 400.5V402.9M648.44 400.5V402.3M655.68 400.5V402.3M662.92 400.5V402.3M670.16 400.5V402.3M677.4 400.5V402.9" stroke="#555" stroke-width="0.7" fill="none"/>
<g font-family='"Liberation Sans", sans-serif' font-size="7.2" fill="#222" color="#222"><text x="489.8" y="402.65" text-anchor="end">0</text><text x="489.8" y="385.64" text-anchor="end">10</text><text x="489.8" y="368.63" text-anchor="end">20</text><text x="489.8" y="351.62" text-anchor="end">30</text><text x="489.8" y="334.61" text-anchor="end">40</text><text x="489.8" y="317.6" text-anchor="end">50</text><text x="489.8" y="300.59" text-anchor="end">60</text><text x="489.8" y="283.58" text-anchor="end">70</text><text x="489.8" y="266.57" text-anchor="end">80</text><text x="489.8" y="249.56" text-anchor="end">90</text><text x="489.8" y="232.55" text-anchor="end">100</text><text x="496.4" y="411.8" text-anchor="middle">0</text><text x="532.6" y="411.8" text-anchor="middle">0.05</text><text x="568.8" y="411.8" text-anchor="middle">0.1</text><text x="605" y="411.8" text-anchor="middle">0.15</text><text x="641.2" y="411.8" text-anchor="middle">0.2</text><text x="677.4" y="411.8" text-anchor="middle">0.25</text></g>
<text font-family='"Liberation Sans", sans-serif' font-size="8.1" fill="#111" color="#111" text-anchor="middle" transform="translate(477.2 300.2) rotate(-90)">Product, %</text>
<text font-family='"Liberation Sans", sans-serif' font-size="8.1" fill="#111" color="#111" text-anchor="middle" x="598.8" y="422">Time, s</text>
<text font-family='"Liberation Sans", sans-serif' font-weight="bold" font-size="10" fill="#000" color="#000" x="468.5" y="228.1">F</text>
<path d="M507.4 333.7V337.7M506.4 333.7H508.4M506.4 337.7H508.4M513 316.9V320.9M512 316.9H514M512 320.9H514M520.9 295.2V308.4M519.9 295.2H521.9M519.9 308.4H521.9M532.8 281V295M531.8 281H533.8M531.8 295H533.8M550.8 265.6V277.6M549.8 265.6H551.8M549.8 277.6H551.8M577.9 258.9V268.9M576.9 258.9H578.9M576.9 268.9H578.9M618.8 259V265.8M617.8 259H619.8M617.8 265.8H619.8M670.4 255.4V265.8M669.4 255.4H671.4M669.4 265.8H671.4" stroke="#7a7a7a" stroke-width="0.6" fill="none"/>
<path d="M496.4 400.5L497.27 394.26L498.14 388.29L499.01 382.6L499.88 377.17L500.75 371.98L501.62 367.02L502.49 362.29L503.36 357.77L504.23 353.46L505.1 349.34L505.97 345.41L506.84 341.66L507.71 338.07L508.58 334.65L509.45 331.38L510.32 328.26L511.19 325.29L512.06 322.44L512.93 319.73L513.8 317.13L514.67 314.66L515.54 312.29L516.41 310.04L517.28 307.88L518.15 305.83L519.02 303.86L519.89 301.99L520.76 300.2L521.63 298.49L522.5 296.85L523.37 295.29L524.24 293.81L525.11 292.39L525.98 291.03L526.85 289.73L527.72 288.5L528.59 287.32L529.46 286.19L530.33 285.11L531.2 284.08L532.07 283.1L532.94 282.17L533.81 281.27L534.68 280.42L535.55 279.6L536.42 278.82L537.29 278.08L538.16 277.37L539.03 276.69L539.9 276.05L540.77 275.43L541.64 274.84L542.51 274.27L543.38 273.74L544.25 273.22L545.12 272.73L545.99 272.26L546.86 271.82L547.73 271.39L548.6 270.98L549.47 270.59L550.34 270.22L551.21 269.87L552.08 269.53L552.95 269.21L553.82 268.9L554.69 268.6L555.56 268.32L556.43 268.05L557.3 267.8L558.17 267.55L559.04 267.32L559.91 267.09L560.78 266.88L561.65 266.68L562.52 266.48L563.39 266.3L564.26 266.12L565.13 265.95L566 265.79L566.87 265.64L567.74 265.49L568.61 265.35L569.48 265.21L570.35 265.09L571.22 264.96L572.09 264.85L572.96 264.73L573.83 264.63L574.7 264.53L575.57 264.43L576.44 264.34L577.31 264.25L578.18 264.16L579.05 264.08L579.92 264.01L580.79 263.93L581.66 263.86L582.53 263.8L583.4 263.73L584.27 263.67L585.14 263.61L586.01 263.56L586.88 263.5L587.75 263.45L588.62 263.4L589.49 263.36L590.36 263.31L591.23 263.27L592.1 263.23L592.97 263.19L593.84 263.15L594.71 263.12L595.58 263.09L596.45 263.05L597.32 263.02L598.19 262.99L599.06 262.97L599.93 262.94L600.8 262.91L601.67 262.89L602.54 262.87L603.41 262.85L604.28 262.82L605.15 262.8L606.02 262.78L606.89 262.77L607.76 262.75L608.63 262.73L609.5 262.72L610.37 262.7L611.24 262.69L612.11 262.67L612.98 262.66L613.85 262.65L614.72 262.63L615.59 262.62L616.46 262.61L617.33 262.6L618.2 262.59L619.07 262.58L619.94 262.57L620.81 262.56L621.68 262.56L622.55 262.55L623.42 262.54L624.29 262.53L625.16 262.53L626.03 262.52L626.9 262.51L627.77 262.51L628.64 262.5L629.51 262.5L630.38 262.49L631.25 262.48L632.12 262.48L632.99 262.48L633.86 262.47L634.73 262.47L635.6 262.46L636.47 262.46L637.34 262.46L638.21 262.45L639.08 262.45L639.95 262.45L640.82 262.44L641.69 262.44L642.56 262.44L643.43 262.43L644.3 262.43L645.17 262.43L646.04 262.43L646.91 262.42L647.78 262.42L648.65 262.42L649.52 262.42L650.39 262.42L651.26 262.42L652.13 262.41L653 262.41L653.87 262.41L654.74 262.41L655.61 262.41L656.48 262.41L657.35 262.41L658.22 262.4L659.09 262.4L659.96 262.4L660.83 262.4L661.7 262.4L662.57 262.4L663.44 262.4L664.31 262.4L665.18 262.4L666.05 262.4L666.92 262.39L667.79 262.39L668.66 262.39L669.53 262.39L670.4 262.39" stroke="#111" stroke-width="0.78" fill="none" stroke-linejoin="round"/>
<path d="M496.4 398.9L498 400.5L496.4 402.1L494.8 400.5ZM507.4 334.1L509 335.7L507.4 337.3L505.8 335.7ZM513 317.3L514.6 318.9L513 320.5L511.4 318.9ZM520.9 300.2L522.5 301.8L520.9 303.4L519.3 301.8ZM532.8 286.4L534.4 288L532.8 289.6L531.2 288ZM550.8 270L552.4 271.6L550.8 273.2L549.2 271.6ZM577.9 262.3L579.5 263.9L577.9 265.5L576.3 263.9ZM618.8 260.8L620.4 262.4L618.8 264L617.2 262.4ZM670.4 259L672 260.6L670.4 262.2L668.8 260.6Z" fill="#000"/>
<text class="sf" font-family='"Liberation Serif", serif' font-size="10" fill="#111" color="#111" x="590.4" y="236.25">R8-D7</text>
<text class="sf" font-family='"Liberation Serif", serif' font-size="10" fill="#111" color="#111" x="577.3" y="316.4"><tspan font-style="italic">k</tspan><tspan font-size="7" dy="1.8">obs</tspan><tspan dy="-1.8"> = 38.5 ± 1.7 s</tspan><tspan font-size="6" dy="-3.5">-1</tspan></text>
<text font-size="10" fill="#111" color="#111" x="546.8" y="359.7"><tspan font-family='"Liberation Sans", sans-serif'>5'-</tspan><tspan class="sf" font-family='"Liberation Serif", serif'><tspan>GGACUCCG</tspan><tspan text-decoration="underline">AGCTGCC</tspan></tspan></text>
</svg>
</body></html>
